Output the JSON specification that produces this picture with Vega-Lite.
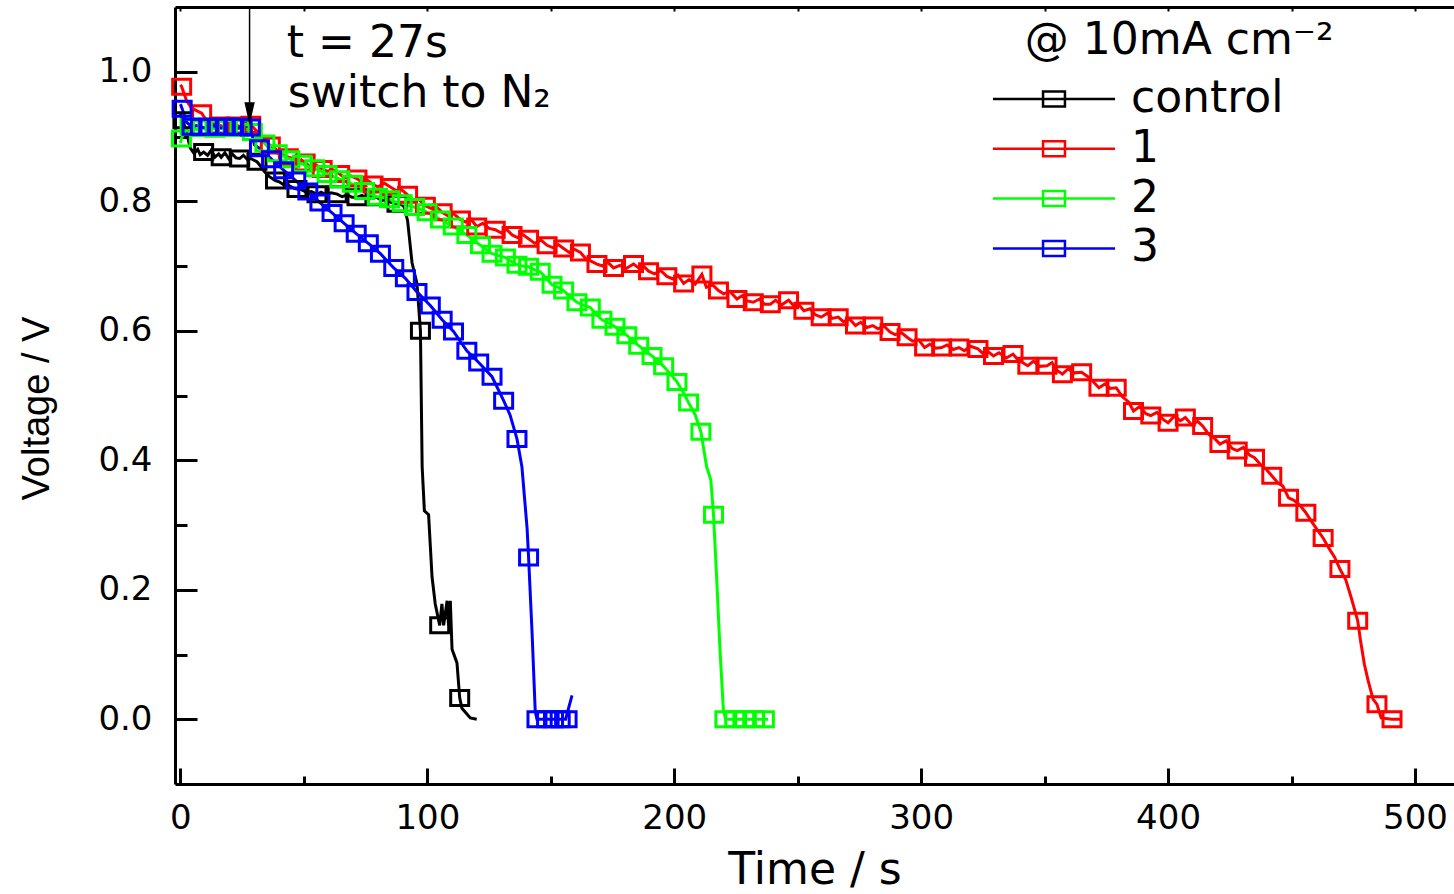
{
"$schema":"https://vega.github.io/schema/vega-lite/v6.json",
"width":1279,"height":777,
"autosize":"none",
"padding":{"left":175,"top":7,"right":0,"bottom":110},
"background":"white",
"config":{"view":{"stroke":null},"font":"DejaVu Sans","axis":{"labelColor":"black","titleColor":"black","tickColor":"black","domainColor":"black","grid":false}},
"datasets":{
"curves":[
{"series":"control","t":0,"v":0.935},{"series":"control","t":1,"v":0.925},{"series":"control","t":2.5,"v":0.905},{"series":"control","t":4,"v":0.882},{"series":"control","t":5.5,"v":0.874},{"series":"control","t":7,"v":0.88},{"series":"control","t":8,"v":0.872},{"series":"control","t":9.4,"v":0.876},{"series":"control","t":11,"v":0.871},{"series":"control","t":12.5,"v":0.879},{"series":"control","t":14,"v":0.868},{"series":"control","t":15.5,"v":0.873},{"series":"control","t":16.5,"v":0.868},{"series":"control","t":18,"v":0.875},{"series":"control","t":19.5,"v":0.866},{"series":"control","t":21,"v":0.873},{"series":"control","t":22.5,"v":0.867},{"series":"control","t":24,"v":0.866},{"series":"control","t":25.5,"v":0.871},{"series":"control","t":27,"v":0.865},{"series":"control","t":28.5,"v":0.866},{"series":"control","t":30,"v":0.863},{"series":"control","t":31,"v":0.861},{"series":"control","t":32.5,"v":0.854},{"series":"control","t":34,"v":0.846},{"series":"control","t":36,"v":0.838},{"series":"control","t":38.5,"v":0.832},{"series":"control","t":40,"v":0.83},{"series":"control","t":42,"v":0.825},{"series":"control","t":44,"v":0.824},{"series":"control","t":46,"v":0.82},{"series":"control","t":47.2,"v":0.819},{"series":"control","t":49,"v":0.818},{"series":"control","t":51,"v":0.814},{"series":"control","t":53,"v":0.815},{"series":"control","t":55.3,"v":0.811},{"series":"control","t":57,"v":0.814},{"series":"control","t":59,"v":0.81},{"series":"control","t":61,"v":0.813},{"series":"control","t":63.5,"v":0.811},{"series":"control","t":65.5,"v":0.807},{"series":"control","t":67.5,"v":0.81},{"series":"control","t":69.5,"v":0.806},{"series":"control","t":71.5,"v":0.806},{"series":"control","t":73.5,"v":0.809},{"series":"control","t":75.5,"v":0.805},{"series":"control","t":77.5,"v":0.808},{"series":"control","t":79.6,"v":0.806},{"series":"control","t":81.5,"v":0.801},{"series":"control","t":83.5,"v":0.803},{"series":"control","t":85.5,"v":0.798},{"series":"control","t":87.7,"v":0.796},{"series":"control","t":89.5,"v":0.795},{"series":"control","t":90.5,"v":0.792},{"series":"control","t":92,"v":0.77},{"series":"control","t":93.8,"v":0.705},{"series":"control","t":95.8,"v":0.673},{"series":"control","t":97.2,"v":0.6},{"series":"control","t":97.9,"v":0.39},{"series":"control","t":98.8,"v":0.322},{"series":"control","t":100.5,"v":0.316},{"series":"control","t":101.9,"v":0.22},{"series":"control","t":103.2,"v":0.178},{"series":"control","t":105,"v":0.145},{"series":"control","t":105.9,"v":0.178},{"series":"control","t":106.6,"v":0.145},{"series":"control","t":108,"v":0.183},{"series":"control","t":108.6,"v":0.145},{"series":"control","t":109.3,"v":0.183},{"series":"control","t":110,"v":0.108},{"series":"control","t":112,"v":0.087},{"series":"control","t":113.1,"v":0.033},{"series":"control","t":114,"v":0.017},{"series":"control","t":117.4,"v":0.002},{"series":"control","t":120,"v":0.0},
{"series":"1","t":0,"v":0.98},{"series":"1","t":0.5,"v":0.977},{"series":"1","t":2.5,"v":0.955},{"series":"1","t":4.5,"v":0.944},{"series":"1","t":6.5,"v":0.94},{"series":"1","t":8.6,"v":0.936},{"series":"1","t":10.5,"v":0.925},{"series":"1","t":12.5,"v":0.918},{"series":"1","t":14.5,"v":0.921},{"series":"1","t":16,"v":0.917},{"series":"1","t":18,"v":0.914},{"series":"1","t":20,"v":0.92},{"series":"1","t":22.5,"v":0.917},{"series":"1","t":24.5,"v":0.915},{"series":"1","t":26.5,"v":0.92},{"series":"1","t":28.5,"v":0.918},{"series":"1","t":30.5,"v":0.91},{"series":"1","t":32.5,"v":0.9},{"series":"1","t":34.5,"v":0.893},{"series":"1","t":36.4,"v":0.886},{"series":"1","t":38.5,"v":0.881},{"series":"1","t":40,"v":0.874},{"series":"1","t":42,"v":0.871},{"series":"1","t":43.7,"v":0.868},{"series":"1","t":45.5,"v":0.866},{"series":"1","t":47,"v":0.858},{"series":"1","t":49,"v":0.864},{"series":"1","t":50.5,"v":0.86},{"series":"1","t":52.5,"v":0.853},{"series":"1","t":54.5,"v":0.857},{"series":"1","t":57.4,"v":0.85},{"series":"1","t":59.5,"v":0.846},{"series":"1","t":61.5,"v":0.849},{"series":"1","t":64.5,"v":0.842},{"series":"1","t":66.5,"v":0.836},{"series":"1","t":68.5,"v":0.84},{"series":"1","t":71.5,"v":0.835},{"series":"1","t":73.5,"v":0.829},{"series":"1","t":75.5,"v":0.833},{"series":"1","t":78,"v":0.826},{"series":"1","t":80,"v":0.822},{"series":"1","t":82.5,"v":0.828},{"series":"1","t":85,"v":0.822},{"series":"1","t":87.5,"v":0.816},{"series":"1","t":89.5,"v":0.818},{"series":"1","t":92,"v":0.81},{"series":"1","t":94.5,"v":0.801},{"series":"1","t":96.5,"v":0.803},{"series":"1","t":99.2,"v":0.793},{"series":"1","t":101.5,"v":0.789},{"series":"1","t":103.5,"v":0.792},{"series":"1","t":106,"v":0.783},{"series":"1","t":108.5,"v":0.777},{"series":"1","t":110.5,"v":0.781},{"series":"1","t":113.4,"v":0.772},{"series":"1","t":115.5,"v":0.768},{"series":"1","t":117.5,"v":0.773},{"series":"1","t":120,"v":0.761},{"series":"1","t":122.5,"v":0.766},{"series":"1","t":125,"v":0.758},{"series":"1","t":127.5,"v":0.756},{"series":"1","t":130,"v":0.751},{"series":"1","t":132,"v":0.757},{"series":"1","t":134.3,"v":0.748},{"series":"1","t":136.5,"v":0.744},{"series":"1","t":138.5,"v":0.749},{"series":"1","t":141,"v":0.742},{"series":"1","t":143.5,"v":0.735},{"series":"1","t":146,"v":0.74},{"series":"1","t":148.5,"v":0.732},{"series":"1","t":151,"v":0.728},{"series":"1","t":153,"v":0.733},{"series":"1","t":155.2,"v":0.727},{"series":"1","t":157.5,"v":0.721},{"series":"1","t":159.5,"v":0.726},{"series":"1","t":162,"v":0.721},{"series":"1","t":164,"v":0.712},{"series":"1","t":166.5,"v":0.707},{"series":"1","t":168.7,"v":0.703},{"series":"1","t":171,"v":0.7},{"series":"1","t":173,"v":0.706},{"series":"1","t":175.4,"v":0.697},{"series":"1","t":178,"v":0.701},{"series":"1","t":180.5,"v":0.696},{"series":"1","t":183.5,"v":0.703},{"series":"1","t":186,"v":0.696},{"series":"1","t":187.5,"v":0.7},{"series":"1","t":189.6,"v":0.692},{"series":"1","t":192,"v":0.688},{"series":"1","t":194.5,"v":0.693},{"series":"1","t":197,"v":0.684},{"series":"1","t":199.5,"v":0.68},{"series":"1","t":201.5,"v":0.686},{"series":"1","t":203.8,"v":0.673},{"series":"1","t":206,"v":0.679},{"series":"1","t":208.5,"v":0.672},{"series":"1","t":211.2,"v":0.687},{"series":"1","t":213,"v":0.667},{"series":"1","t":215.5,"v":0.671},{"series":"1","t":217.9,"v":0.662},{"series":"1","t":220,"v":0.657},{"series":"1","t":222.5,"v":0.661},{"series":"1","t":225.4,"v":0.649},{"series":"1","t":227.5,"v":0.654},{"series":"1","t":229.5,"v":0.646},{"series":"1","t":232,"v":0.644},{"series":"1","t":234.5,"v":0.649},{"series":"1","t":236.5,"v":0.641},{"series":"1","t":238.9,"v":0.641},{"series":"1","t":241,"v":0.647},{"series":"1","t":243.5,"v":0.64},{"series":"1","t":246.3,"v":0.647},{"series":"1","t":248.5,"v":0.638},{"series":"1","t":250.5,"v":0.64},{"series":"1","t":252.5,"v":0.631},{"series":"1","t":255,"v":0.634},{"series":"1","t":257,"v":0.625},{"series":"1","t":259.5,"v":0.621},{"series":"1","t":262,"v":0.627},{"series":"1","t":264,"v":0.619},{"series":"1","t":266.4,"v":0.621},{"series":"1","t":268.5,"v":0.614},{"series":"1","t":271,"v":0.618},{"series":"1","t":273.4,"v":0.608},{"series":"1","t":275.5,"v":0.613},{"series":"1","t":278,"v":0.605},{"series":"1","t":280.4,"v":0.608},{"series":"1","t":282.5,"v":0.603},{"series":"1","t":285,"v":0.607},{"series":"1","t":287.4,"v":0.598},{"series":"1","t":289.5,"v":0.594},{"series":"1","t":292,"v":0.597},{"series":"1","t":294.3,"v":0.59},{"series":"1","t":296.5,"v":0.584},{"series":"1","t":299,"v":0.586},{"series":"1","t":301.4,"v":0.574},{"series":"1","t":303.5,"v":0.579},{"series":"1","t":306,"v":0.573},{"series":"1","t":308.3,"v":0.574},{"series":"1","t":310.5,"v":0.578},{"series":"1","t":313,"v":0.571},{"series":"1","t":315.3,"v":0.574},{"series":"1","t":317.5,"v":0.569},{"series":"1","t":320,"v":0.576},{"series":"1","t":323,"v":0.572},{"series":"1","t":325,"v":0.565},{"series":"1","t":327,"v":0.568},{"series":"1","t":329.3,"v":0.561},{"series":"1","t":331.5,"v":0.566},{"series":"1","t":334.5,"v":0.558},{"series":"1","t":337.2,"v":0.564},{"series":"1","t":339,"v":0.556},{"series":"1","t":341,"v":0.551},{"series":"1","t":343.2,"v":0.546},{"series":"1","t":345.5,"v":0.553},{"series":"1","t":348,"v":0.545},{"series":"1","t":351,"v":0.546},{"series":"1","t":353,"v":0.551},{"series":"1","t":355,"v":0.539},{"series":"1","t":357.2,"v":0.533},{"series":"1","t":359.5,"v":0.541},{"series":"1","t":362,"v":0.535},{"series":"1","t":365,"v":0.536},{"series":"1","t":367.5,"v":0.529},{"series":"1","t":369.5,"v":0.522},{"series":"1","t":372,"v":0.512},{"series":"1","t":374.5,"v":0.518},{"series":"1","t":376.5,"v":0.511},{"series":"1","t":379,"v":0.512},{"series":"1","t":381.5,"v":0.498},{"series":"1","t":384,"v":0.49},{"series":"1","t":386,"v":0.476},{"series":"1","t":388.5,"v":0.483},{"series":"1","t":391,"v":0.472},{"series":"1","t":393,"v":0.469},{"series":"1","t":395.5,"v":0.474},{"series":"1","t":398,"v":0.463},{"series":"1","t":400,"v":0.458},{"series":"1","t":402.5,"v":0.468},{"series":"1","t":405,"v":0.461},{"series":"1","t":407,"v":0.466},{"series":"1","t":409.5,"v":0.455},{"series":"1","t":412,"v":0.46},{"series":"1","t":414,"v":0.453},{"series":"1","t":416.5,"v":0.44},{"series":"1","t":419,"v":0.433},{"series":"1","t":421,"v":0.425},{"series":"1","t":423.5,"v":0.43},{"series":"1","t":426,"v":0.418},{"series":"1","t":428,"v":0.415},{"series":"1","t":430.5,"v":0.42},{"series":"1","t":433,"v":0.408},{"series":"1","t":435,"v":0.404},{"series":"1","t":437.5,"v":0.393},{"series":"1","t":440,"v":0.385},{"series":"1","t":442,"v":0.376},{"series":"1","t":444.5,"v":0.365},{"series":"1","t":446.5,"v":0.36},{"series":"1","t":448.8,"v":0.342},{"series":"1","t":451,"v":0.338},{"series":"1","t":453.5,"v":0.33},{"series":"1","t":455.8,"v":0.319},{"series":"1","t":458,"v":0.306},{"series":"1","t":460.5,"v":0.292},{"series":"1","t":462.8,"v":0.28},{"series":"1","t":465,"v":0.265},{"series":"1","t":467.5,"v":0.25},{"series":"1","t":469.6,"v":0.232},{"series":"1","t":472,"v":0.215},{"series":"1","t":474,"v":0.19},{"series":"1","t":475.5,"v":0.17},{"series":"1","t":476.8,"v":0.152},{"series":"1","t":478,"v":0.12},{"series":"1","t":479.5,"v":0.085},{"series":"1","t":481,"v":0.06},{"series":"1","t":483,"v":0.031},{"series":"1","t":484.6,"v":0.023},{"series":"1","t":486.3,"v":0.002},{"series":"1","t":490.7,"v":0.0},{"series":"1","t":494.6,"v":0.0},
{"series":"2","t":0,"v":0.89},{"series":"2","t":0.4,"v":0.897},{"series":"2","t":2,"v":0.91},{"series":"2","t":3.9,"v":0.915},{"series":"2","t":6.5,"v":0.911},{"series":"2","t":8.9,"v":0.913},{"series":"2","t":11.5,"v":0.914},{"series":"2","t":14,"v":0.912},{"series":"2","t":16.5,"v":0.914},{"series":"2","t":19,"v":0.913},{"series":"2","t":21.5,"v":0.911},{"series":"2","t":24.1,"v":0.913},{"series":"2","t":26.5,"v":0.912},{"series":"2","t":29.1,"v":0.907},{"series":"2","t":31.5,"v":0.897},{"series":"2","t":34.2,"v":0.889},{"series":"2","t":36.5,"v":0.88},{"series":"2","t":39.2,"v":0.874},{"series":"2","t":41.5,"v":0.87},{"series":"2","t":44.3,"v":0.865},{"series":"2","t":47,"v":0.86},{"series":"2","t":49.3,"v":0.858},{"series":"2","t":52,"v":0.853},{"series":"2","t":54.4,"v":0.851},{"series":"2","t":57,"v":0.846},{"series":"2","t":59.4,"v":0.842},{"series":"2","t":62,"v":0.838},{"series":"2","t":64.5,"v":0.834},{"series":"2","t":67,"v":0.83},{"series":"2","t":69.6,"v":0.827},{"series":"2","t":72,"v":0.82},{"series":"2","t":74.6,"v":0.816},{"series":"2","t":77,"v":0.811},{"series":"2","t":79.7,"v":0.807},{"series":"2","t":82,"v":0.806},{"series":"2","t":84.7,"v":0.803},{"series":"2","t":87,"v":0.799},{"series":"2","t":89.8,"v":0.797},{"series":"2","t":92.5,"v":0.793},{"series":"2","t":94.8,"v":0.791},{"series":"2","t":97.5,"v":0.787},{"series":"2","t":99.9,"v":0.783},{"series":"2","t":102.5,"v":0.777},{"series":"2","t":105.3,"v":0.772},{"series":"2","t":108,"v":0.766},{"series":"2","t":110.5,"v":0.761},{"series":"2","t":113,"v":0.755},{"series":"2","t":116,"v":0.748},{"series":"2","t":118.5,"v":0.74},{"series":"2","t":121.5,"v":0.732},{"series":"2","t":124,"v":0.725},{"series":"2","t":126.2,"v":0.719},{"series":"2","t":129,"v":0.716},{"series":"2","t":131.6,"v":0.713},{"series":"2","t":134,"v":0.707},{"series":"2","t":136.3,"v":0.702},{"series":"2","t":138.5,"v":0.7},{"series":"2","t":141,"v":0.699},{"series":"2","t":143.5,"v":0.694},{"series":"2","t":145.7,"v":0.691},{"series":"2","t":148,"v":0.682},{"series":"2","t":150.5,"v":0.671},{"series":"2","t":153,"v":0.667},{"series":"2","t":155.2,"v":0.662},{"series":"2","t":158,"v":0.652},{"series":"2","t":160.6,"v":0.644},{"series":"2","t":163,"v":0.64},{"series":"2","t":166,"v":0.636},{"series":"2","t":168.5,"v":0.625},{"series":"2","t":170.7,"v":0.617},{"series":"2","t":173.5,"v":0.612},{"series":"2","t":176,"v":0.606},{"series":"2","t":178.5,"v":0.6},{"series":"2","t":180.8,"v":0.593},{"series":"2","t":183,"v":0.585},{"series":"2","t":185.6,"v":0.577},{"series":"2","t":188.5,"v":0.568},{"series":"2","t":191,"v":0.561},{"series":"2","t":193.5,"v":0.553},{"series":"2","t":195.7,"v":0.545},{"series":"2","t":198.5,"v":0.533},{"series":"2","t":201.1,"v":0.521},{"series":"2","t":203.5,"v":0.506},{"series":"2","t":205.8,"v":0.489},{"series":"2","t":208.5,"v":0.47},{"series":"2","t":210.8,"v":0.444},{"series":"2","t":213.1,"v":0.39},{"series":"2","t":214.8,"v":0.37},{"series":"2","t":215.9,"v":0.316},{"series":"2","t":217.2,"v":0.216},{"series":"2","t":218.5,"v":0.109},{"series":"2","t":219.9,"v":0.014},{"series":"2","t":220.8,"v":0.0},{"series":"2","t":238,"v":0.0},
{"series":"3","t":0,"v":0.95},{"series":"3","t":0.7,"v":0.943},{"series":"3","t":2.5,"v":0.922},{"series":"3","t":4.7,"v":0.915},{"series":"3","t":6.5,"v":0.917},{"series":"3","t":8.1,"v":0.915},{"series":"3","t":10,"v":0.913},{"series":"3","t":11.5,"v":0.915},{"series":"3","t":13,"v":0.917},{"series":"3","t":14.9,"v":0.915},{"series":"3","t":16.5,"v":0.913},{"series":"3","t":18.2,"v":0.915},{"series":"3","t":20,"v":0.917},{"series":"3","t":21.6,"v":0.915},{"series":"3","t":23.5,"v":0.913},{"series":"3","t":25,"v":0.915},{"series":"3","t":27,"v":0.916},{"series":"3","t":28.3,"v":0.914},{"series":"3","t":30,"v":0.887},{"series":"3","t":32,"v":0.882},{"series":"3","t":36.9,"v":0.865},{"series":"3","t":41.8,"v":0.848},{"series":"3","t":46.7,"v":0.832},{"series":"3","t":51.6,"v":0.815},{"series":"3","t":56.5,"v":0.798},{"series":"3","t":61.4,"v":0.782},{"series":"3","t":66.3,"v":0.766},{"series":"3","t":71.2,"v":0.75},{"series":"3","t":76.1,"v":0.735},{"series":"3","t":81,"v":0.719},{"series":"3","t":86.4,"v":0.697},{"series":"3","t":91.1,"v":0.681},{"series":"3","t":95.8,"v":0.66},{"series":"3","t":101.2,"v":0.639},{"series":"3","t":106,"v":0.617},{"series":"3","t":110.6,"v":0.599},{"series":"3","t":116,"v":0.569},{"series":"3","t":120.8,"v":0.551},{"series":"3","t":126.2,"v":0.529},{"series":"3","t":130.9,"v":0.492},{"series":"3","t":133.5,"v":0.47},{"series":"3","t":136.3,"v":0.433},{"series":"3","t":138.3,"v":0.39},{"series":"3","t":140.4,"v":0.295},{"series":"3","t":141,"v":0.25},{"series":"3","t":142.4,"v":0.135},{"series":"3","t":143.7,"v":0.012},{"series":"3","t":144.4,"v":0.0},{"series":"3","t":156,"v":0.0},{"series":"3","t":158.6,"v":0.037}
],
"markers":[
{"series":"control","t":1,"v":0.925},{"series":"control","t":9.4,"v":0.876},{"series":"control","t":16.5,"v":0.868},{"series":"control","t":24,"v":0.866},{"series":"control","t":31,"v":0.861},{"series":"control","t":38.5,"v":0.832},{"series":"control","t":47.2,"v":0.819},{"series":"control","t":55.3,"v":0.811},{"series":"control","t":63.5,"v":0.811},{"series":"control","t":71.5,"v":0.806},{"series":"control","t":79.6,"v":0.806},{"series":"control","t":87.7,"v":0.796},{"series":"control","t":97.2,"v":0.6},{"series":"control","t":105,"v":0.145},{"series":"control","t":113.1,"v":0.033},
{"series":"1","t":0.5,"v":0.977},{"series":"1","t":8.6,"v":0.936},{"series":"1","t":16,"v":0.917},{"series":"1","t":22.5,"v":0.917},{"series":"1","t":28.5,"v":0.918},{"series":"1","t":36.4,"v":0.886},{"series":"1","t":43.7,"v":0.868},{"series":"1","t":50.5,"v":0.86},{"series":"1","t":57.4,"v":0.85},{"series":"1","t":64.5,"v":0.842},{"series":"1","t":71.5,"v":0.835},{"series":"1","t":78,"v":0.826},{"series":"1","t":85,"v":0.822},{"series":"1","t":92,"v":0.81},{"series":"1","t":99.2,"v":0.793},{"series":"1","t":106,"v":0.783},{"series":"1","t":113.4,"v":0.772},{"series":"1","t":120,"v":0.761},{"series":"1","t":127.5,"v":0.756},{"series":"1","t":134.3,"v":0.748},{"series":"1","t":141,"v":0.742},{"series":"1","t":148.5,"v":0.732},{"series":"1","t":155.2,"v":0.727},{"series":"1","t":162,"v":0.721},{"series":"1","t":168.7,"v":0.703},{"series":"1","t":175.4,"v":0.697},{"series":"1","t":183.5,"v":0.703},{"series":"1","t":189.6,"v":0.692},{"series":"1","t":197,"v":0.684},{"series":"1","t":203.8,"v":0.673},{"series":"1","t":211.2,"v":0.687},{"series":"1","t":217.9,"v":0.662},{"series":"1","t":225.4,"v":0.649},{"series":"1","t":232,"v":0.644},{"series":"1","t":238.9,"v":0.641},{"series":"1","t":246.3,"v":0.647},{"series":"1","t":252.5,"v":0.631},{"series":"1","t":259.5,"v":0.621},{"series":"1","t":266.4,"v":0.621},{"series":"1","t":273.4,"v":0.608},{"series":"1","t":280.4,"v":0.608},{"series":"1","t":287.4,"v":0.598},{"series":"1","t":294.3,"v":0.59},{"series":"1","t":301.4,"v":0.574},{"series":"1","t":308.3,"v":0.574},{"series":"1","t":315.3,"v":0.574},{"series":"1","t":323,"v":0.572},{"series":"1","t":329.3,"v":0.561},{"series":"1","t":337.2,"v":0.564},{"series":"1","t":343.2,"v":0.546},{"series":"1","t":351,"v":0.546},{"series":"1","t":357.2,"v":0.533},{"series":"1","t":365,"v":0.536},{"series":"1","t":372,"v":0.512},{"series":"1","t":379,"v":0.512},{"series":"1","t":386,"v":0.476},{"series":"1","t":393,"v":0.469},{"series":"1","t":400,"v":0.458},{"series":"1","t":407,"v":0.466},{"series":"1","t":414,"v":0.453},{"series":"1","t":421,"v":0.425},{"series":"1","t":428,"v":0.415},{"series":"1","t":435,"v":0.404},{"series":"1","t":442,"v":0.376},{"series":"1","t":448.8,"v":0.342},{"series":"1","t":455.8,"v":0.319},{"series":"1","t":462.8,"v":0.28},{"series":"1","t":469.6,"v":0.232},{"series":"1","t":476.8,"v":0.152},{"series":"1","t":484.6,"v":0.023},{"series":"1","t":490.7,"v":0.0},
{"series":"2","t":0.4,"v":0.897},{"series":"2","t":3.9,"v":0.915},{"series":"2","t":8.9,"v":0.913},{"series":"2","t":14,"v":0.912},{"series":"2","t":19,"v":0.913},{"series":"2","t":24.1,"v":0.913},{"series":"2","t":29.1,"v":0.907},{"series":"2","t":34.2,"v":0.889},{"series":"2","t":39.2,"v":0.874},{"series":"2","t":44.3,"v":0.865},{"series":"2","t":49.3,"v":0.858},{"series":"2","t":54.4,"v":0.851},{"series":"2","t":59.4,"v":0.842},{"series":"2","t":64.5,"v":0.834},{"series":"2","t":69.6,"v":0.827},{"series":"2","t":74.6,"v":0.816},{"series":"2","t":79.7,"v":0.807},{"series":"2","t":84.7,"v":0.803},{"series":"2","t":89.8,"v":0.797},{"series":"2","t":94.8,"v":0.791},{"series":"2","t":99.9,"v":0.783},{"series":"2","t":105.3,"v":0.772},{"series":"2","t":110.5,"v":0.761},{"series":"2","t":116,"v":0.748},{"series":"2","t":121.5,"v":0.732},{"series":"2","t":126.2,"v":0.719},{"series":"2","t":131.6,"v":0.713},{"series":"2","t":136.3,"v":0.702},{"series":"2","t":141,"v":0.699},{"series":"2","t":145.7,"v":0.691},{"series":"2","t":150.5,"v":0.671},{"series":"2","t":155.2,"v":0.662},{"series":"2","t":160.6,"v":0.644},{"series":"2","t":166,"v":0.636},{"series":"2","t":170.7,"v":0.617},{"series":"2","t":176,"v":0.606},{"series":"2","t":180.8,"v":0.593},{"series":"2","t":185.6,"v":0.577},{"series":"2","t":191,"v":0.561},{"series":"2","t":195.7,"v":0.545},{"series":"2","t":201.1,"v":0.521},{"series":"2","t":205.8,"v":0.489},{"series":"2","t":210.8,"v":0.444},{"series":"2","t":215.9,"v":0.316},{"series":"2","t":220.5,"v":0.0},{"series":"2","t":224.5,"v":0.0},{"series":"2","t":228.5,"v":0.0},{"series":"2","t":232.5,"v":0.0},{"series":"2","t":236.5,"v":0.0},
{"series":"3","t":0.7,"v":0.943},{"series":"3","t":4.7,"v":0.915},{"series":"3","t":8.1,"v":0.915},{"series":"3","t":11.5,"v":0.915},{"series":"3","t":14.9,"v":0.915},{"series":"3","t":18.2,"v":0.915},{"series":"3","t":21.6,"v":0.915},{"series":"3","t":25,"v":0.915},{"series":"3","t":28.3,"v":0.914},{"series":"3","t":32,"v":0.882},{"series":"3","t":36.9,"v":0.865},{"series":"3","t":41.8,"v":0.848},{"series":"3","t":46.7,"v":0.832},{"series":"3","t":51.6,"v":0.815},{"series":"3","t":56.5,"v":0.798},{"series":"3","t":61.4,"v":0.782},{"series":"3","t":66.3,"v":0.766},{"series":"3","t":71.2,"v":0.75},{"series":"3","t":76.1,"v":0.735},{"series":"3","t":81,"v":0.719},{"series":"3","t":86.4,"v":0.697},{"series":"3","t":91.1,"v":0.681},{"series":"3","t":95.8,"v":0.66},{"series":"3","t":101.2,"v":0.639},{"series":"3","t":106,"v":0.617},{"series":"3","t":110.6,"v":0.599},{"series":"3","t":116,"v":0.569},{"series":"3","t":120.8,"v":0.551},{"series":"3","t":126.2,"v":0.529},{"series":"3","t":130.9,"v":0.492},{"series":"3","t":136.3,"v":0.433},{"series":"3","t":141,"v":0.25},{"series":"3","t":144.4,"v":0.0},{"series":"3","t":148.3,"v":0.0},{"series":"3","t":151.1,"v":0.0},{"series":"3","t":153.8,"v":0.0},{"series":"3","t":156.6,"v":0.0}
]},
"resolve":{"axis":{"x":"independent","y":"independent"}},
"layer":[
{"data":{"name":"curves"},
 "mark":{"type":"line","strokeWidth":3},
 "encoding":{
  "x":{"field":"t","type":"quantitative","scale":{"domain":[-2.2,515.8],"nice":false,"zero":false},
   "axis":{"orient":"bottom","values":[0,100,200,300,400,500],"format":"d","tickSize":-16,"tickWidth":3,"domainWidth":3,"labelFontSize":34,"labelPadding":33,"labelFlush":false,"labelOverlap":false,"title":"Time / s","titleFontSize":44,"titleFontWeight":"normal","titleY":99,"titleBaseline":"alphabetic"}},
  "y":{"field":"v","type":"quantitative","scale":{"domain":[-0.1,1.1],"nice":false,"zero":false},
   "axis":{"orient":"left","values":[0,0.2,0.4,0.6,0.8,1.0],"format":".1f","tickSize":-22,"tickWidth":3,"domainWidth":3,"labelFontSize":34,"labelPadding":45,"labelFlush":false,"labelOverlap":false,"title":"Voltage / V","titleFont":"Liberation Sans","titleFontSize":38,"titleFontWeight":"normal","titleAngle":270,"titleX":-127,"titleY":401,"titleAlign":"center","titleBaseline":"alphabetic"}},
  "color":{"field":"series","type":"nominal","scale":{"domain":["control","1","2","3"],"range":["#000000","#ff0000","#00ff00","#0000ff"]},
   "legend":{"orient":"none","legendX":857,"legendY":70,"title":null,"padding":0,"symbolType":"M -4.07 0 H 4.07 M -0.73 -0.5 H 0.73 V 0.5 H -0.73 Z","symbolSize":900,"symbolStrokeWidth":2.5,"symbolFillColor":"transparent","labelFontSize":44,"labelColor":"black","labelOffset":55,"rowPadding":5.8,"labelFont":"DejaVu Sans"}}
 }},
{"data":{"name":"markers"},
 "mark":{"type":"point","shape":"M -0.6 -0.5 H 0.6 V 0.5 H -0.6 Z","size":900,"filled":false,"strokeWidth":3,"opacity":1},
 "encoding":{
  "x":{"field":"t","type":"quantitative","scale":{"domain":[-2.2,515.8],"nice":false,"zero":false},
   "axis":{"orient":"bottom","values":[50,150,250,350,450],"tickSize":-8,"tickWidth":3,"labels":false,"domain":false,"title":null}},
  "y":{"field":"v","type":"quantitative","scale":{"domain":[-0.1,1.1],"nice":false,"zero":false},
   "axis":{"orient":"left","values":[0.1,0.3,0.5,0.7,0.9],"tickSize":-12,"tickWidth":3,"labels":false,"domain":false,"title":null}},
  "color":{"field":"series","type":"nominal","scale":{"domain":["control","1","2","3"],"range":["#000000","#ff0000","#00ff00","#0000ff"]},
   "legend":{"orient":"none","legendX":857,"legendY":70,"title":null,"padding":0,"symbolType":"M -4.07 0 H 4.07 M -0.73 -0.5 H 0.73 V 0.5 H -0.73 Z","symbolSize":900,"symbolStrokeWidth":2.5,"symbolFillColor":"transparent","labelFontSize":44,"labelColor":"black","labelOffset":55,"rowPadding":5.8,"labelFont":"DejaVu Sans"}}
 }},
{"data":{"values":[{}]},
 "mark":{"type":"rule","strokeWidth":1.5,"color":"black"},
 "encoding":{
  "x":{"datum":28,"type":"quantitative","axis":{"orient":"top","values":[0,50,100,150,200,250,300,350,400,450,500],"tickSize":-4,"tickWidth":2,"labels":false,"domain":true,"domainWidth":3,"title":null}},
  "y":{"datum":1.1,"type":"quantitative","axis":null},
  "y2":{"datum":0.95}
 }},
{"data":{"values":[{}]},
 "mark":{"type":"point","shape":"M -0.45 -1 L 0.45 -1 L 0 1 Z","size":529,"filled":true,"color":"black","opacity":1},
 "encoding":{"x":{"datum":28,"type":"quantitative","axis":null},"y":{"datum":0.935,"type":"quantitative","axis":null}}},
{"data":{"values":[{}]},
 "mark":{"type":"text","text":"t = 27s","fontSize":44,"align":"left","baseline":"alphabetic","color":"black"},
 "encoding":{"x":{"datum":43.1,"type":"quantitative","axis":null},"y":{"datum":1.023,"type":"quantitative","axis":null}}},
{"data":{"values":[{}]},
 "mark":{"type":"text","text":"switch to N₂","fontSize":44,"align":"left","baseline":"alphabetic","color":"black"},
 "encoding":{"x":{"datum":43.5,"type":"quantitative","axis":null},"y":{"datum":0.946,"type":"quantitative","axis":null}}},
{"data":{"values":[{}]},
 "mark":{"type":"text","text":"@ 10mA cm⁻²","fontSize":44,"align":"left","baseline":"alphabetic","color":"black"},
 "encoding":{"x":{"datum":342,"type":"quantitative","axis":null},"y":{"datum":1.028,"type":"quantitative","axis":null}}}
]
}
